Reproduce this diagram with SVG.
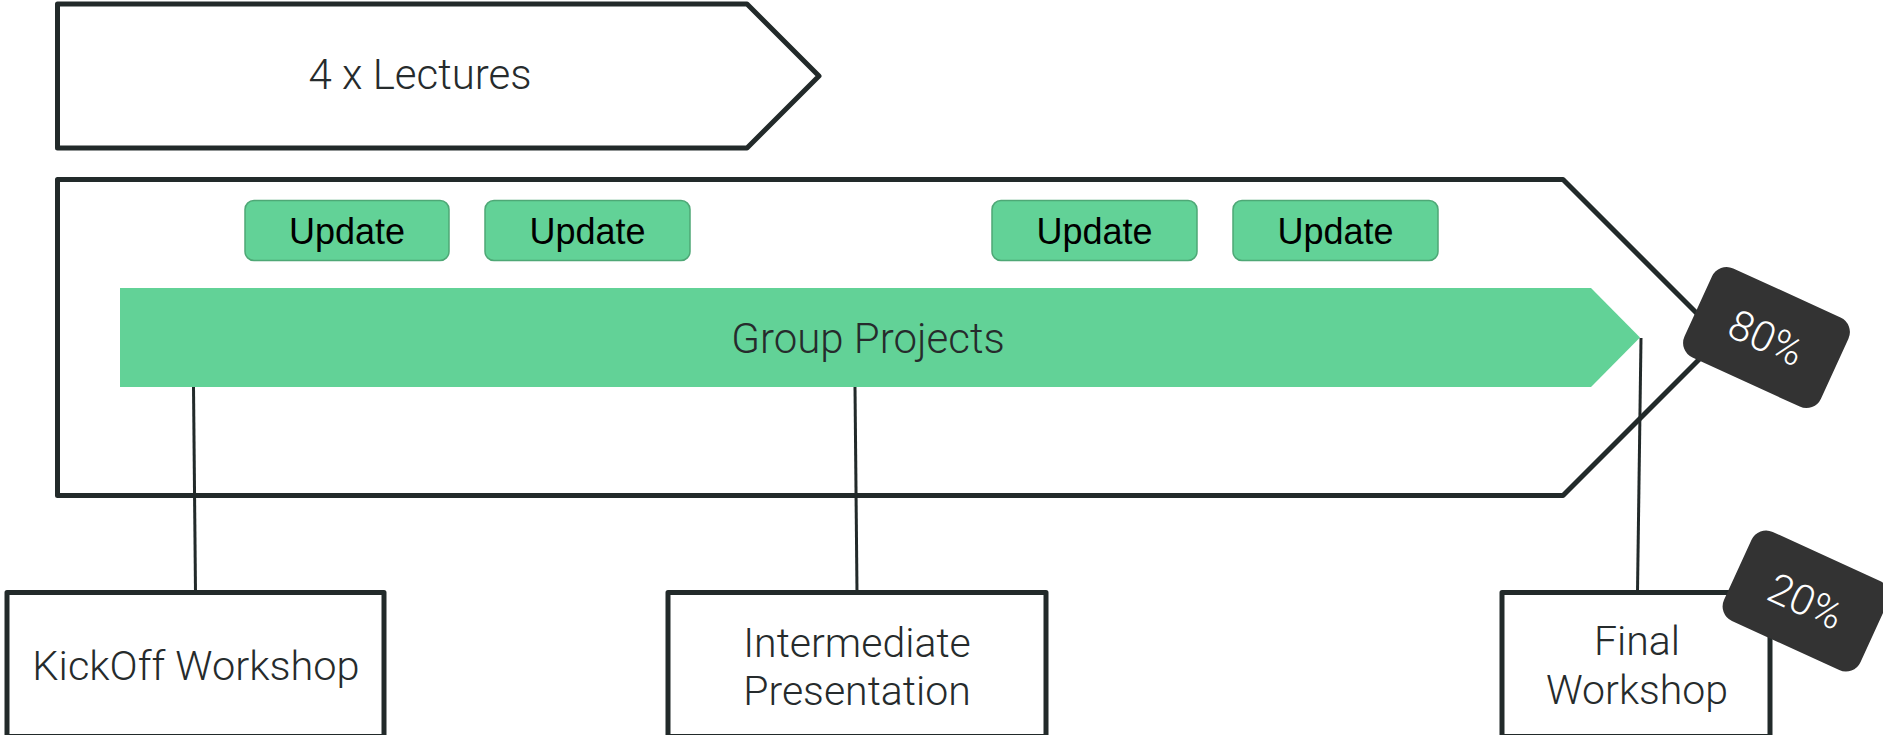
<svg xmlns="http://www.w3.org/2000/svg" width="1883" height="735" viewBox="0 0 1883 735">
  <style>
    .frame { fill: #ffffff; stroke: #222a2a; stroke-width: 5; stroke-linejoin: round; }
    .bar { fill: #62d297; }
    .upd { fill: #62d297; stroke: #4ea876; stroke-width: 1.5; }
    .lbl { font-family: "Roboto", "Lato", "Liberation Sans", sans-serif; font-weight: 300; fill: #262b2c; text-anchor: middle; }
    .updtxt { font-family: "Liberation Sans", Arial, sans-serif; font-size: 36px; fill: #000000; text-anchor: middle; }
    .tag { fill: #333333; }
    .tagtxt { font-family: "Roboto", "Lato", "Liberation Sans", sans-serif; font-weight: 300; font-size: 42px; fill: #ffffff; text-anchor: middle; }
    .link { stroke: #222a2a; stroke-width: 3; fill: none; }
  </style>
  <rect width="1883" height="735" fill="#ffffff"/>

  <!-- lecture series -->
  <g id="lectures">
    <path class="frame" d="M57.5,4 H747 L819,76 L747,148 H57.5 Z"/>
    <text class="lbl" x="420" y="89" font-size="42">4 x Lectures</text>
  </g>

  <!-- project phase -->
  <g id="project-phase">
    <path class="frame" d="M57.5,179.5 H1563 L1721,337.5 L1563,495.5 H57.5 Z"/>
  </g>

  <g id="group-projects">
    <path class="bar" d="M120,288 H1591 L1640,337.5 L1591,387 H120 Z"/>
    <text class="lbl" x="868" y="353" font-size="42">Group Projects</text>
  </g>

  <g id="update-1">
    <rect class="upd" x="245" y="200.5" width="204" height="60" rx="9"/>
    <text class="updtxt" x="347" y="244">Update</text>
  </g>
  <g id="update-2">
    <rect class="upd" x="485" y="200.5" width="205" height="60" rx="9"/>
    <text class="updtxt" x="587.5" y="244">Update</text>
  </g>
  <g id="update-3">
    <rect class="upd" x="992" y="200.5" width="205" height="60" rx="9"/>
    <text class="updtxt" x="1094.5" y="244">Update</text>
  </g>
  <g id="update-4">
    <rect class="upd" x="1233" y="200.5" width="205" height="60" rx="9"/>
    <text class="updtxt" x="1335.5" y="244">Update</text>
  </g>

  <!-- milestone links -->
  <g id="connectors">
    <line class="link" x1="193.5" y1="387" x2="195.5" y2="592"/>
    <line class="link" x1="855" y1="387" x2="857" y2="592"/>
    <line class="link" x1="1641" y1="338" x2="1637.5" y2="592"/>
  </g>

  <g id="weight-80">
    <g transform="translate(1766.5,337.5) rotate(24.6)">
      <rect class="tag" x="-75" y="-49" width="150" height="98" rx="16"/>
      <text class="tagtxt" x="0" y="15">80%</text>
    </g>
  </g>

  <!-- milestones -->
  <g id="kickoff">
    <rect class="frame" x="7" y="592.5" width="377" height="144"/>
    <text class="lbl" x="196" y="680" font-size="41.5">KickOff Workshop</text>
  </g>
  <g id="intermediate">
    <rect class="frame" x="668" y="592.5" width="378" height="144"/>
    <text class="lbl" x="857" y="657" font-size="41">Intermediate</text>
    <text class="lbl" x="857" y="705" font-size="41">Presentation</text>
  </g>
  <g id="final">
    <rect class="frame" x="1502" y="592.5" width="268" height="144"/>
    <text class="lbl" x="1637" y="655" font-size="41">Final</text>
    <text class="lbl" x="1637" y="704" font-size="41">Workshop</text>
  </g>

  <g id="weight-20">
    <g transform="translate(1806,601) rotate(24.6)">
      <rect class="tag" x="-75" y="-49" width="150" height="98" rx="16"/>
      <text class="tagtxt" x="0" y="15">20%</text>
    </g>
  </g>
</svg>
